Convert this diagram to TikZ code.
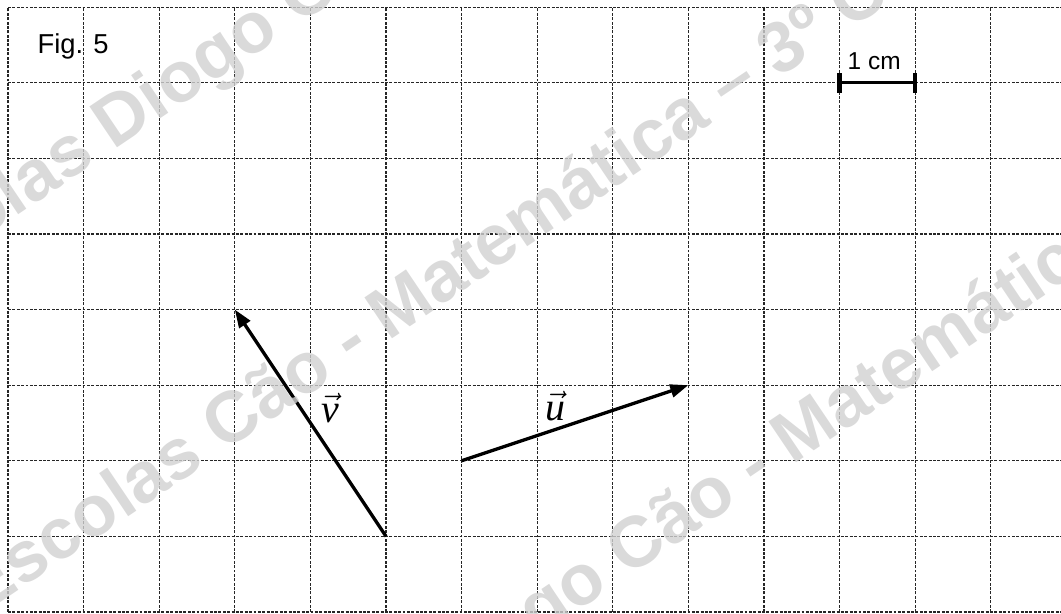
\documentclass[tikz,border=0pt]{standalone}
\usepackage{amsmath}
\usepackage{fontspec}
\setmainfont{Liberation Sans}
\newfontfamily\tnr{Liberation Serif}
\usetikzlibrary{arrows.meta}
\tikzset{
  gridline/.style={black!85, line width=0.45pt, dash pattern=on 1.1pt off 0.55pt},
  vec/.style={line width=1.25pt, -{Triangle[length=2.4mm,width=1.7mm]}},
  veclbl/.style={inner sep=0pt, font=\fontsize{15}{18}\selectfont},
  wmark/.style={anchor=base west, rotate=34, inner sep=0pt, text=black!18,
    text opacity=0.8, font=\fontsize{27}{30}\selectfont\bfseries}
}
\begin{document}
\begin{tikzpicture}
\def\xmin{-0.106}
\def\ymin{-0.026}
\def\xmax{13.929}
\def\ymax{8.095}
\useasboundingbox (\xmin,\ymin) rectangle (\xmax,\ymax);
\clip (\xmin,\ymin) rectangle (\xmax,\ymax);
% Grid
\foreach \x in {0,...,13}
  \draw[gridline] (\x,0) -- (\x,8);
\foreach \y in {0,...,8}
  \draw[gridline] (0,\y) -- (\xmax,\y);
% Title
\node[anchor=base west, inner sep=0pt, font=\fontsize{10.3}{12}\selectfont] (fig) at (0.384,7.381) {Fig. 5};
% Scale bar
\coordinate (s0) at (11,7);
\coordinate (s1) at (12,7);
\draw[line width=1.2pt] (s0) -- (s1);
\draw[line width=1.6pt] ([yshift=-0.13cm]s0) -- ([yshift=0.13cm]s0);
\draw[line width=1.6pt] ([yshift=-0.13cm]s1) -- ([yshift=0.13cm]s1);
\node[anchor=base west, inner sep=0pt, font=\fontsize{9.2}{11}\selectfont] (cm) at (11.10,7.17) {1 cm};
% Vectors
\coordinate (v0) at (5,1);
\coordinate (v1) at (3,4);
\coordinate (u0) at (6,2);
\coordinate (u1) at (9,3);
\draw[vec] (v0) -- (v1);
\draw[vec] (u0) -- (u1);
\node[veclbl] (vl) at (4.26,2.70) {$\vec{\text{\tnr\itshape v}}$};
\node[veclbl] (ul) at (7.24,2.72) {$\vec{\text{\tnr\itshape u}}$};
% Watermark
\node[wmark] (w1) at (-1.80,3.95) {Escolas Diogo Cão - Matemática – 3º Ciclo};
\node[wmark] (w2) at (-0.35,-0.05) {Escolas Cão - Matemática – 3º Ciclo};
\node[wmark] (w3) at (2.55,-3.35) {Escolas Diogo Cão - Matemática – 3º Ciclo};
\end{tikzpicture}
\end{document}
